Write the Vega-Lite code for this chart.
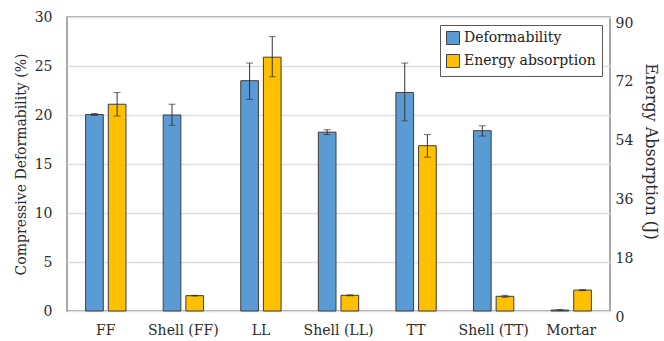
{
  "$schema": "https://vega.github.io/schema/vega-lite/v6.json",
  "width": 543,
  "height": 294,
  "autosize": {"type": "none"},
  "padding": {"left": 67, "top": 17, "right": 54, "bottom": 30},
  "background": "white",
  "config": {
    "font": "DejaVu Serif",
    "view": {"stroke": "#8c8c8c", "strokeWidth": 1.5},
    "axis": {
      "labelFont": "DejaVu Serif",
      "titleFont": "DejaVu Serif",
      "labelFontSize": 14,
      "titleFontSize": 14,
      "titleFontWeight": "normal",
      "labelColor": "#2b2b2b",
      "titleColor": "#2b2b2b",
      "ticks": false,
      "domain": false
    },
    "legend": {
      "orient": "top-right",
      "offset": 8,
      "strokeColor": "#595959",
      "strokeWidth": 1,
      "fillColor": "white",
      "padding": 6,
      "labelFont": "DejaVu Serif",
      "labelFontSize": 14,
      "labelColor": "#222222",
      "symbolType": "square",
      "symbolSize": 169,
      "symbolStrokeColor": "#404040",
      "symbolStrokeWidth": 1,
      "symbolOpacity": 1,
      "labelOffset": 4,
      "rowPadding": 5
    }
  },
  "data": {
    "values": [
      {"cat": "FF", "series": "Deformability", "value": 20.05, "lo": 19.95, "hi": 20.15},
      {"cat": "FF", "series": "Energy absorption", "value": 63.3, "lo": 59.7, "hi": 66.9},
      {"cat": "Shell (FF)", "series": "Deformability", "value": 20.0, "lo": 18.95, "hi": 21.1},
      {"cat": "Shell (FF)", "series": "Energy absorption", "value": 4.7, "lo": 4.6, "hi": 4.8},
      {"cat": "LL", "series": "Deformability", "value": 23.5, "lo": 21.6, "hi": 25.3},
      {"cat": "LL", "series": "Energy absorption", "value": 77.7, "lo": 71.7, "hi": 84.0},
      {"cat": "Shell (LL)", "series": "Deformability", "value": 18.25, "lo": 18.0, "hi": 18.5},
      {"cat": "Shell (LL)", "series": "Energy absorption", "value": 4.8, "lo": 4.65, "hi": 4.95},
      {"cat": "TT", "series": "Deformability", "value": 22.3, "lo": 19.4, "hi": 25.3},
      {"cat": "TT", "series": "Energy absorption", "value": 50.6, "lo": 47.1, "hi": 54.0},
      {"cat": "Shell (TT)", "series": "Deformability", "value": 18.4, "lo": 17.85, "hi": 18.9},
      {"cat": "Shell (TT)", "series": "Energy absorption", "value": 4.5, "lo": 4.2, "hi": 4.8},
      {"cat": "Mortar", "series": "Deformability", "value": 0.1, "lo": 0.05, "hi": 0.15},
      {"cat": "Mortar", "series": "Energy absorption", "value": 6.4, "lo": 6.25, "hi": 6.55}
    ]
  },
  "encoding": {
    "x": {
      "field": "cat",
      "type": "nominal",
      "sort": ["FF", "Shell (FF)", "LL", "Shell (LL)", "TT", "Shell (TT)", "Mortar"],
      "scale": {"paddingInner": 0.48, "paddingOuter": 0.24},
      "axis": {"title": null, "labelAngle": 0, "labelPadding": 12, "grid": false}
    },
    "xOffset": {
      "field": "series",
      "type": "nominal",
      "scale": {"domain": ["Deformability", "Energy absorption"], "paddingInner": 0.22}
    }
  },
  "layer": [
    {
      "transform": [{"filter": "datum.series === 'Deformability'"}],
      "encoding": {
        "y": {
          "field": "value",
          "type": "quantitative",
          "scale": {"domain": [0, 30], "nice": false},
          "axis": {
            "orient": "left",
            "title": "Compressive Deformability (%)",
            "values": [0, 5, 10, 15, 20, 25, 30],
            "grid": true,
            "gridColor": "#dedede",
            "gridWidth": 1.5,
            "labelPadding": 15,
            "titlePadding": 6
          }
        }
      },
      "layer": [
        {
          "mark": {"type": "bar", "stroke": "#3d3d3d", "strokeWidth": 1},
          "encoding": {
            "color": {
              "field": "series",
              "type": "nominal",
              "scale": {"domain": ["Deformability", "Energy absorption"], "range": ["#5b9bd5", "#ffc000"]},
              "legend": {"title": null}
            }
          }
        },
        {
          "mark": {"type": "rule", "color": "#333333", "strokeWidth": 1},
          "encoding": {"y": {"field": "lo", "type": "quantitative"}, "y2": {"field": "hi"}}
        },
        {
          "mark": {"type": "tick", "color": "#333333", "thickness": 1, "size": 7},
          "encoding": {"y": {"field": "lo", "type": "quantitative"}}
        },
        {
          "mark": {"type": "tick", "color": "#333333", "thickness": 1, "size": 7},
          "encoding": {"y": {"field": "hi", "type": "quantitative"}}
        }
      ]
    },
    {
      "transform": [{"filter": "datum.series === 'Energy absorption'"}],
      "encoding": {
        "y": {
          "field": "value",
          "type": "quantitative",
          "scale": {"domain": [0, 90], "nice": false},
          "axis": {
            "orient": "right",
            "title": "Energy Absorption (J)",
            "values": [0, 18, 36, 54, 72, 90],
            "grid": false,
            "labelPadding": 5,
            "labelOffset": 6,
            "titleFontSize": 16,
            "titleX": 40,
            "titleY": 134,
            "titleAngle": 90,
            "titleAlign": "center",
            "titleBaseline": "middle"
          }
        }
      },
      "layer": [
        {
          "mark": {"type": "bar", "stroke": "#3d3d3d", "strokeWidth": 1},
          "encoding": {
            "color": {
              "field": "series",
              "type": "nominal",
              "scale": {"domain": ["Deformability", "Energy absorption"], "range": ["#5b9bd5", "#ffc000"]},
              "legend": {"title": null}
            }
          }
        },
        {
          "mark": {"type": "rule", "color": "#333333", "strokeWidth": 1},
          "encoding": {"y": {"field": "lo", "type": "quantitative"}, "y2": {"field": "hi"}}
        },
        {
          "mark": {"type": "tick", "color": "#333333", "thickness": 1, "size": 7},
          "encoding": {"y": {"field": "lo", "type": "quantitative"}}
        },
        {
          "mark": {"type": "tick", "color": "#333333", "thickness": 1, "size": 7},
          "encoding": {"y": {"field": "hi", "type": "quantitative"}}
        }
      ]
    }
  ],
  "resolve": {"scale": {"y": "independent"}}
}
